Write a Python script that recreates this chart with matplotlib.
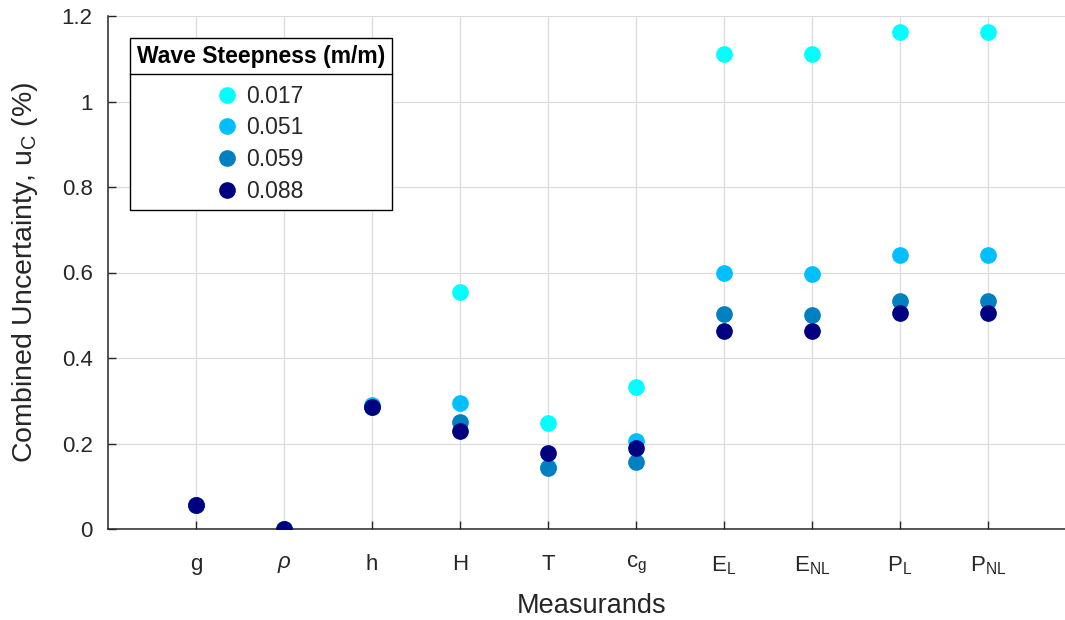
import matplotlib
matplotlib.use("Agg")
import matplotlib.pyplot as plt
from matplotlib.lines import Line2D
from matplotlib.ticker import FuncFormatter

plt.rcParams['font.family'] = ['Liberation Sans', 'DejaVu Sans']
plt.rcParams['mathtext.fontset'] = 'custom'
plt.rcParams['mathtext.rm'] = 'Liberation Sans'
plt.rcParams['mathtext.it'] = 'Liberation Sans:italic'
plt.rcParams['mathtext.default'] = 'regular'

categories = ['g', r'$\mathit{\rho}$', 'h', 'H', 'T', r'c$_g$', r'E$_L$', r'E$_{NL}$', r'P$_L$', r'P$_{NL}$']
steepness = ['0.017', '0.051', '0.059', '0.088']
colors = ['#00FFFF', '#00BFFF', '#0080C0', '#000080']

u_0017 = [0.055, 0.0, 0.286, 0.554, 0.248, 0.332, 1.110, 1.110, 1.163, 1.163]
u_0051 = [0.055, 0.0, 0.290, 0.294, 0.145, 0.206, 0.598, 0.596, 0.641, 0.641]
u_0059 = [0.055, 0.0, 0.286, 0.250, 0.143, 0.157, 0.502, 0.500, 0.533, 0.533]
u_0088 = [0.055, 0.0, 0.286, 0.229, 0.178, 0.189, 0.463, 0.462, 0.505, 0.505]
series = [u_0017, u_0051, u_0059, u_0088]

fig = plt.figure(figsize=(10.65, 6.2), dpi=100)
ax = fig.add_axes([108/1065, 91/620, 968/1065, 513/620])

x = list(range(1, len(categories) + 1))
for vals, lab, col in zip(series, steepness, colors):
    ax.plot(x, vals, linestyle='none', marker='o', markersize=11,
            markerfacecolor=col, markeredgecolor=col, label=lab, zorder=3)

ax.set_xlim(0, 11)
ax.set_ylim(0, 1.2)
ax.set_xticks(x)
ax.set_xticklabels(categories)
ax.set_yticks([0, 0.2, 0.4, 0.6, 0.8, 1.0, 1.2])
ax.yaxis.set_major_formatter(FuncFormatter(lambda v, p: '%g' % round(v, 2)))

tc = '#262626'
ax.tick_params(direction='in', length=6, width=1, colors=tc, labelsize=16, pad=11)
ax.tick_params(axis='x', pad=18)
ax.grid(True, color='#dcdcdc', linewidth=0.9)
ax.set_axisbelow(True)
for s in ['top', 'right']:
    ax.spines[s].set_visible(False)
for s in ['left', 'bottom']:
    ax.spines[s].set_color(tc)
    ax.spines[s].set_linewidth(1.1)

ax.set_xlabel('Measurands', fontsize=19.5, color=tc, labelpad=12)
ax.set_ylabel(r'Combined Uncertainty, u$_C$ (%)', fontsize=20.5, color=tc, labelpad=16)

leg = ax.legend(loc='upper left', bbox_to_anchor=(22/968, 491/513), borderaxespad=0,
                title='Wave Steepness (m/m)', fontsize=16.5, fancybox=False,
                edgecolor='black', framealpha=1, handlelength=0.7, handletextpad=0.5,
                labelspacing=0.38, borderpad=0.3, title_fontproperties={'weight': 'bold', 'size': 16.5})
leg.get_frame().set_linewidth(1.0)
leg._legend_box.sep = 12
for t in leg.get_texts():
    t.set_color(tc)

fig.canvas.draw()
r = fig.canvas.get_renderer()
lb = leg.get_window_extent(r)
tb = leg.get_title().get_window_extent(r)
ysep = tb.y0 - 6
inv = fig.transFigure.inverted()
(x0f, yf) = inv.transform((lb.x0, ysep))
(x1f, _) = inv.transform((lb.x1, ysep))
fig.add_artist(Line2D([x0f, x1f], [yf, yf], transform=fig.transFigure, color='black', linewidth=1.0, zorder=10))

fig.savefig('out.png', dpi=100)
